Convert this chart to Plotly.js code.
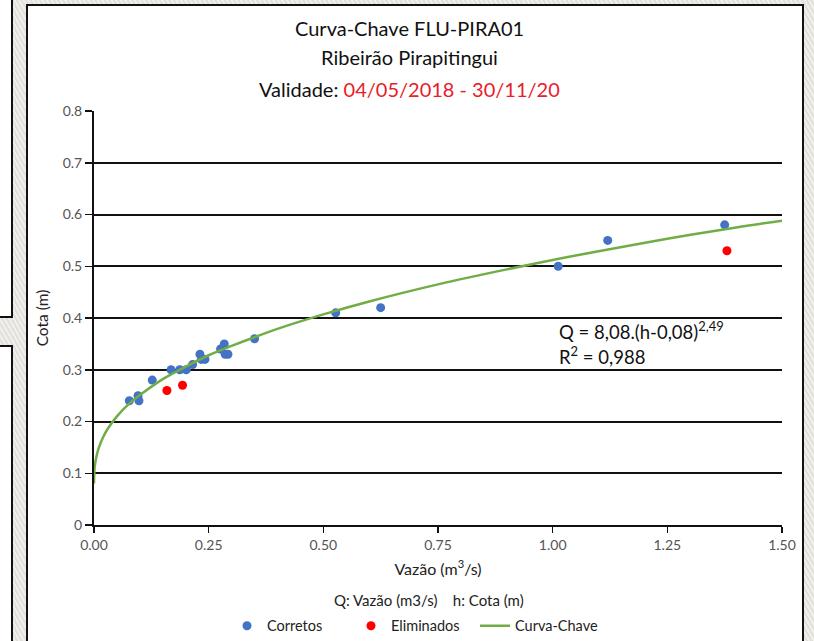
<!DOCTYPE html>
<html><head><meta charset="utf-8">
<script src="https://cdn.plot.ly/plotly-3.0.1.min.js"></script>
<style>
html,body{margin:0;padding:0;width:814px;height:641px;overflow:hidden;
background:#e9e7e1;
background-image:repeating-linear-gradient(60deg,rgba(255,255,255,0.35) 0px,rgba(255,255,255,0.35) 2px,rgba(0,0,0,0.03) 2px,rgba(0,0,0,0.03) 4px);}
.box{position:absolute;background:#fff;border:2px solid #111;box-sizing:border-box;}
#chart{position:absolute;left:26px;top:4px;width:778px;height:645px;background:#fff;border:2px solid #111;box-sizing:border-box;}
</style></head>
<body>
<div class="box" style="left:-4px;top:-4px;width:17px;height:322px;"></div>
<div class="box" style="left:-4px;top:345px;width:17px;height:310px;"></div>
<div id="chart"></div>
<script>
// Corretos (blue)
const corretosQ = [0.077,0.096,0.098,0.127,0.168,0.187,0.201,0.215,0.231,0.234,0.242,0.276,0.284,0.286,0.292,0.350,0.527,0.625,1.012,1.120,1.375];
const corretosH = [0.24,0.25,0.24,0.28,0.30,0.30,0.30,0.31,0.33,0.32,0.32,0.34,0.35,0.33,0.33,0.36,0.41,0.42,0.50,0.55,0.58];
// Eliminados (red)
const eliminadosQ = [0.159,0.193,1.380];
const eliminadosH = [0.26,0.27,0.53];
// Curva-Chave
const curvaQ = [0,0.001,0.0025,0.005,0.01,0.02,0.03,0.05,0.075,0.1,0.15,0.2,0.25,0.3,0.4,0.5,0.6,0.75,0.9,1.0,1.1,1.25,1.4,1.5];
const curvaH = [0.080,0.107,0.119,0.131,0.148,0.170,0.186,0.210,0.233,0.251,0.282,0.306,0.328,0.346,0.379,0.407,0.432,0.465,0.494,0.512,0.529,0.553,0.575,0.588];
// Ticks
const yTickVals = [0,0.1,0.2,0.3,0.4,0.5,0.6,0.7,0.8];
const yTickText = ["0","0.1","0.2","0.3","0.4","0.5","0.6","0.7","0.8"];
const xTickVals = [0,0.25,0.5,0.75,1.0,1.25,1.5];
const xTickText = ["0.00","0.25","0.50","0.75","1.00","1.25","1.50"];

const F = 'Lato,"Open Sans",sans-serif';

const traces = [
 {x:corretosQ,y:corretosH,type:'scatter',mode:'markers',name:'Corretos',
  marker:{color:'#4472C4',size:9}},
 {x:eliminadosQ,y:eliminadosH,type:'scatter',mode:'markers',name:'Eliminados',
  marker:{color:'#FF0000',size:9}},
 {x:curvaQ,y:curvaH,type:'scatter',mode:'lines',name:'Curva-Chave',
  line:{color:'#70AD47',width:2.5,shape:'spline'}}
];

const layout = {
 width:774,height:641,
 margin:{l:66,r:20,t:105,b:122},
 paper_bgcolor:'#ffffff',plot_bgcolor:'#ffffff',
 font:{family:F,color:'#404040'},
 showlegend:true,
 legend:{orientation:'h',xref:'container',x:0.2571,xanchor:'left',yref:'container',y:0.033,yanchor:'middle',
  entrywidth:79,entrywidthmode:'pixels',
  font:{family:F,size:14.5,color:'#222'},traceorder:'normal'},
 xaxis:{range:[0,1.5],tickvals:xTickVals,ticktext:xTickText,automargin:false,
  showgrid:false,zeroline:false,showline:true,linecolor:'#111',linewidth:2,
  ticks:'outside',ticklen:6,tickwidth:1.5,tickcolor:'#111',
  tickfont:{family:F,size:14,color:'#555'},
  title:{text:'Vazão (m<sup>3</sup>/s)',font:{family:F,size:16,color:'#222'},standoff:12}},
 yaxis:{range:[0,0.8],tickvals:yTickVals,ticktext:yTickText,automargin:false,
  showgrid:true,gridcolor:'#111',gridwidth:2,zeroline:false,
  showline:true,linecolor:'#111',linewidth:2,
  ticks:'outside',ticklen:7,tickwidth:1.5,tickcolor:'#111',
  tickfont:{family:F,size:14,color:'#555'},
  title:{text:'Cota (m)',font:{family:F,size:15.5,color:'#222'},standoff:10}},
 annotations:[
  {xref:'paper',yref:'paper',x:0.458,y:1,yshift:83,xanchor:'center',yanchor:'middle',
   text:'Curva-Chave FLU-PIRA01',showarrow:false,font:{family:F,size:20,color:'#111'}},
  {xref:'paper',yref:'paper',x:0.458,y:1,yshift:54,xanchor:'center',yanchor:'middle',
   text:'Ribeirão Pirapitingui',showarrow:false,font:{family:F,size:20,color:'#111'}},
  {xref:'paper',yref:'paper',x:0.458,y:1,yshift:22,xanchor:'center',yanchor:'middle',
   text:'Validade: <span style="color:#E8202A">04/05/2018 - 30/11/20</span>',showarrow:false,font:{family:F,size:20,color:'#111'}},
  {xref:'x',yref:'y',x:1.010,y:0.375,xanchor:'left',yanchor:'middle',
   text:'Q = 8,08.(h-0,08)<sup>2,49</sup>',showarrow:false,font:{family:F,size:18.5,color:'#111'}},
  {xref:'x',yref:'y',x:1.010,y:0.327,xanchor:'left',yanchor:'middle',
   text:'R<sup>2</sup> = 0,988',showarrow:false,font:{family:F,size:18.5,color:'#111'}},
  {xref:'paper',yref:'paper',x:0.487,y:0,yshift:-75,xanchor:'center',yanchor:'middle',
   text:'Q: Vazão (m3/s)&nbsp;&nbsp;&nbsp;&nbsp;h: Cota (m)',showarrow:false,font:{family:F,size:15,color:'#222'}}
 ]
};
Plotly.newPlot('chart',traces,layout,{displayModeBar:false,staticPlot:true});
</script>
</body></html>
